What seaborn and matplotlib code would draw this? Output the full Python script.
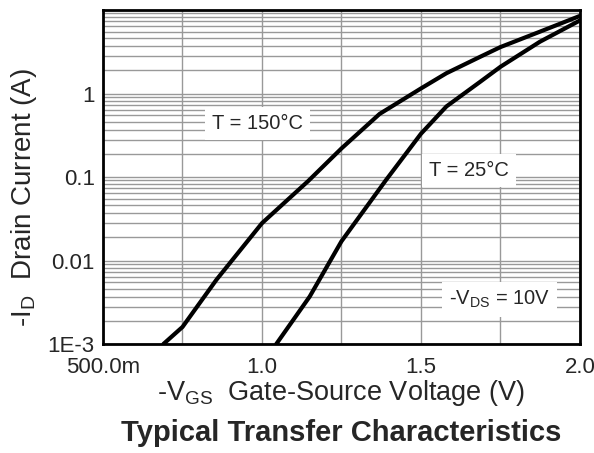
import numpy as np
import pandas as pd
import matplotlib
matplotlib.use("Agg")
import matplotlib.pyplot as plt
import matplotlib.ticker as mticker
import seaborn as sns

# curve readings, -VGS (V) vs -ID (A)
vgs_150 = [0.69, 0.75, 0.857, 1.0, 1.146, 1.25, 1.37, 1.50, 1.58, 1.686, 1.75, 1.874, 2.0]
id_150 = [0.001, 0.0016, 0.0059, 0.028, 0.09, 0.22, 0.57, 1.15, 1.75, 2.75, 3.6, 5.5, 8.5]
vgs_25 = [1.045, 1.15, 1.25, 1.39, 1.50, 1.58, 1.686, 1.75, 1.874, 2.0]
id_25 = [0.001, 0.0037, 0.017, 0.092, 0.33, 0.7, 1.38, 2.09, 4.17, 7.5]

x_ticks = [0.5, 1.0, 1.5, 2.0]
x_labels = ["500.0m", "1.0", "1.5", "2.0"]
y_ticks = [1e-3, 1e-2, 1e-1, 1]
y_labels = ["1E-3", "0.01", "0.1", "1"]

df = pd.concat([
    pd.DataFrame({"vgs": vgs_150, "id": id_150, "temp": "150"}),
    pd.DataFrame({"vgs": vgs_25, "id": id_25, "temp": "25"}),
])

sns.set_style("white")
plt.rcParams["font.family"] = ["Liberation Sans", "DejaVu Sans"]
plt.rcParams["mathtext.fontset"] = "custom"
plt.rcParams["mathtext.rm"] = "Liberation Sans"
plt.rcParams["mathtext.it"] = "Liberation Sans"

fig = plt.figure(figsize=(5.94, 4.53), dpi=100)
ax = fig.add_axes([0.1734, 0.2406, 0.9764 - 0.1734, 0.9779 - 0.2406])

sns.lineplot(data=df, x="vgs", y="id", units="temp", estimator=None, color="black",
             linewidth=3, ax=ax, legend=False, zorder=5)

ax.set_yscale("log")
ax.set_xlim(0.5, 2.0)
ax.set_ylim(1e-3, 10)

ax.set_xticks(x_ticks)
ax.set_xticklabels(x_labels)
ax.xaxis.set_minor_locator(mticker.FixedLocator([0.75, 1.25, 1.75]))
ax.set_yticks(y_ticks)
ax.set_yticklabels(y_labels)
ax.yaxis.set_minor_locator(mticker.LogLocator(base=10, subs=np.arange(1.9, 9.2, 0.9)))
ax.yaxis.set_minor_formatter(mticker.NullFormatter())

ax.grid(which="both", axis="both", color="#999999", linewidth=1.0)
ax.tick_params(axis="x", which="both", length=0, labelsize=16, pad=9)
ax.tick_params(axis="y", which="both", direction="in", length=3, width=1.5, labelsize=16, pad=6)
for sp in ax.spines.values():
    sp.set_color("black")
    sp.set_linewidth(2)

ax.set_xlabel(r"-V$_\mathrm{GS}$  Gate-Source Voltage (V)", fontsize=19.5, labelpad=0)
ax.set_ylabel(r"-I$_\mathrm{D}$  Drain Current (A)", fontsize=20, labelpad=4)
ax.yaxis.set_label_coords(-0.135, 0.44)

box = dict(facecolor="white", edgecolor="none", pad=5)
ax.text(0.843, 0.44, "T = 150°C", fontsize=14.5, ha="left", va="center", bbox=box, zorder=4)
ax.text(1.525, 0.12, "T = 25°C", fontsize=14.5, ha="left", va="center", bbox=box, zorder=4)
ax.text(1.588, 0.0034, r"-V$_\mathrm{DS}$ = 10V", fontsize=14.5,
        ha="left", va="center", bbox=box, zorder=4)

fig.text(0.575, 0.045, "Typical Transfer Characteristics", fontsize=21, fontweight="bold",
         ha="center", va="center")

fig.savefig("out.png", dpi=100)
